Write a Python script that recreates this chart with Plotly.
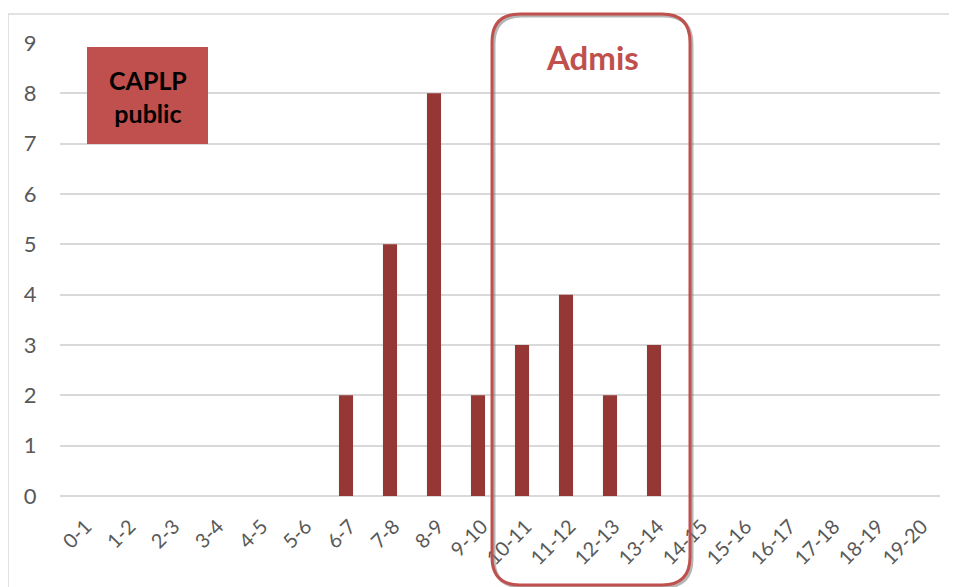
import plotly.graph_objects as go

categories = ["0-1", "1-2", "2-3", "3-4", "4-5", "5-6", "6-7", "7-8", "8-9", "9-10",
              "10-11", "11-12", "12-13", "13-14", "14-15", "15-16", "16-17", "17-18", "18-19", "19-20"]
counts = [0, 0, 0, 0, 0, 0, 2, 5, 8, 2, 3, 4, 2, 3, 0, 0, 0, 0, 0, 0]
y_ticks = list(range(0, 10))

W, H = 957, 587
OFF = 8  # page body margin offset
L, R, T, B = 60 - OFF, 940 - OFF, 43 - OFF, 496 - OFF  # plot area in figure pixels


def px(x):
    return (x - OFF - L) / (R - L)


def py(y):
    return (B - (y - OFF)) / (B - T)


fig = go.Figure()
fig.add_trace(go.Bar(x=categories, y=counts, marker=dict(color="#953735", line=dict(width=0)),
                     width=0.32, hoverinfo="x+y"))


def rounded_path(x0, y0, x1, y1, r):
    pts = [
        f"M {px(x0 + r)},{py(y0)}",
        f"L {px(x1 - r)},{py(y0)}",
        f"Q {px(x1)},{py(y0)} {px(x1)},{py(y0 + r)}",
        f"L {px(x1)},{py(y1 - r)}",
        f"Q {px(x1)},{py(y1)} {px(x1 - r)},{py(y1)}",
        f"L {px(x0 + r)},{py(y1)}",
        f"Q {px(x0)},{py(y1)} {px(x0)},{py(y1 - r)}",
        f"L {px(x0)},{py(y0 + r)}",
        f"Q {px(x0)},{py(y0)} {px(x0 + r)},{py(y0)}",
        "Z",
    ]
    return " ".join(pts)


shapes = [
    dict(type="rect", xref="paper", yref="paper", x0=px(8), x1=px(1000), y0=py(14), y1=py(640),
         line=dict(color="#d9d9d9", width=1.5), fillcolor="rgba(0,0,0,0)", layer="below"),
    dict(type="rect", xref="paper", yref="paper", x0=px(87), x1=px(208), y0=py(47), y1=py(144),
         line=dict(width=0), fillcolor="#C0504D"),
    dict(type="path", xref="paper", yref="paper", path=rounded_path(494, 16, 692, 587, 28),
         line=dict(color="rgba(120,120,120,0.55)", width=3), fillcolor="rgba(0,0,0,0)"),
    dict(type="path", xref="paper", yref="paper", path=rounded_path(492, 14, 690, 585, 28),
         line=dict(color="#C0504D", width=3), fillcolor="rgba(0,0,0,0)"),
]

annotations = [
    dict(xref="paper", yref="paper", x=px(147.5), y=py(96), text="<b>CAPLP<br>public</b>",
         showarrow=False, font=dict(family="Lato, Open Sans, sans-serif", size=25, color="#000000"),
         xanchor="center", yanchor="middle"),
    dict(xref="paper", yref="paper", x=px(592), y=py(57), text="<b>Admis</b>",
         showarrow=False, font=dict(family="Lato, Open Sans, sans-serif", size=33, color="#C0504D"),
         xanchor="center", yanchor="middle"),
]

fig.update_layout(
    width=W, height=H,
    margin=dict(l=L, r=W - R, t=T, b=H - B, pad=0),
    paper_bgcolor="white", plot_bgcolor="white",
    showlegend=False,
    shapes=shapes,
    annotations=annotations,
    font=dict(family="Lato, Open Sans, sans-serif", color="#595959"),
)
fig.update_xaxes(type="category", tickangle=-45, tickfont=dict(size=20, color="#595959"),
                 showgrid=False, showline=False, ticks="outside", ticklen=10,
                 tickcolor="rgba(0,0,0,0)", ticklabelshift=4, range=[-0.5, 19.5])
fig.update_yaxes(range=[0, 9], tickvals=y_ticks, tickfont=dict(size=22, color="#595959"),
                 showgrid=True, gridcolor="#d9d9d9", gridwidth=1.5, zeroline=True,
                 zerolinecolor="#d9d9d9", zerolinewidth=1.5, showline=False, ticks="outside",
                 ticklen=18, tickcolor="rgba(0,0,0,0)")

fig.write_html("out.html")
